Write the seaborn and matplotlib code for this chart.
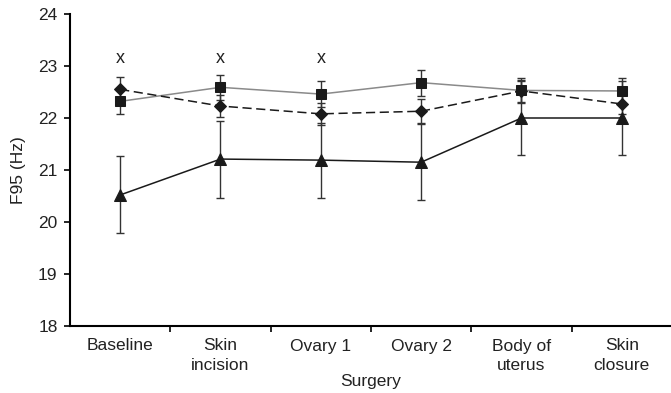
import numpy as np
import pandas as pd
import matplotlib
matplotlib.use("Agg")
import matplotlib.pyplot as plt
import seaborn as sns

# categories and series (mean, error half-width)
stages = ["Baseline", "Skin\nincision", "Ovary 1", "Ovary 2", "Body of\nuterus", "Skin\nclosure"]
square_mean = [22.32, 22.59, 22.46, 22.68, 22.53, 22.52]
square_err = [0.24, 0.24, 0.25, 0.25, 0.24, 0.24]
diamond_mean = [22.55, 22.23, 22.08, 22.13, 22.52, 22.27]
diamond_err = [0.23, 0.21, 0.21, 0.23, 0.22, 0.20]
triangle_mean = [20.52, 21.21, 21.19, 21.15, 22.00, 22.00]
triangle_err = [0.74, 0.74, 0.72, 0.73, 0.72, 0.72]
x_marks = ["Baseline", "Skin\nincision", "Ovary 1"]
x_mark_y = 23.15

sns.set_theme(style="ticks")
plt.rcParams["font.family"] = ["Liberation Sans", "DejaVu Sans"]

df = pd.DataFrame({
    "stage": stages * 3,
    "f95": square_mean + diamond_mean + triangle_mean,
    "err": square_err + diamond_err + triangle_err,
    "group": ["square"] * 6 + ["diamond"] * 6 + ["triangle"] * 6,
})

fig = plt.figure(figsize=(6.71, 3.93), dpi=100)
ax = fig.add_axes([70 / 671, 67 / 393, 602 / 671, 312 / 393])

styles = {
    "square": dict(marker="s", ls="-", color="#8a8a8a", ms=6.5),
    "diamond": dict(marker="D", ls=(0, (6, 3)), color="#1a1a1a", ms=6.3),
    "triangle": dict(marker="^", ls="-", color="#1a1a1a", ms=8),
}

for name, st in styles.items():
    sub = df[df["group"] == name]
    ax.errorbar(sub["stage"], sub["f95"], yerr=sub["err"], fmt="none",
                ecolor="#333333", elinewidth=1.0, capsize=3, capthick=1.0, zorder=2)

for name, st in styles.items():
    sub = df[df["group"] == name]
    sns.lineplot(data=sub, x="stage", y="f95", ax=ax, sort=False,
                 color=st["color"], linestyle=st["ls"], linewidth=1.1,
                 marker=st["marker"], markersize=st["ms"],
                 markerfacecolor="#1a1a1a", markeredgecolor="#1a1a1a", zorder=3)

for s in x_marks:
    ax.text(stages.index(s), x_mark_y, "x", ha="center", va="center",
            fontsize=13, color="#222222")

fs = 12.5
ax.set_xlim(-0.5, 5.5)
ax.set_ylim(18, 24)
ax.set_yticks(range(18, 25))
ax.set_xticks(np.arange(0.5, 5.0, 1.0))
ax.set_xticklabels([])
ax.set_xticks(range(len(stages)), minor=True)
ax.set_xticklabels(stages, minor=True)
for lbl in ax.get_xticklabels(minor=True):
    lbl.set_linespacing(1.4)
ax.tick_params(axis="x", which="major", direction="out", length=4, width=1.2, color="black")
ax.tick_params(axis="x", which="minor", length=0, labelsize=fs, pad=9, colors="#222222")
ax.tick_params(axis="y", direction="out", length=4, width=1.2, labelsize=fs, pad=5, colors="#222222")
ax.tick_params(axis="y", color="black")

for side in ["top", "right"]:
    ax.spines[side].set_visible(False)
for side in ["left", "bottom"]:
    ax.spines[side].set_linewidth(1.5)
    ax.spines[side].set_color("black")

ax.set_xlabel("Surgery", fontsize=fs, color="#222222", labelpad=0.5)
ax.set_ylabel("F95 (Hz)", fontsize=fs, color="#222222", labelpad=9)
leg = ax.get_legend()
if leg is not None:
    leg.remove()

fig.savefig("out.png", dpi=100)
